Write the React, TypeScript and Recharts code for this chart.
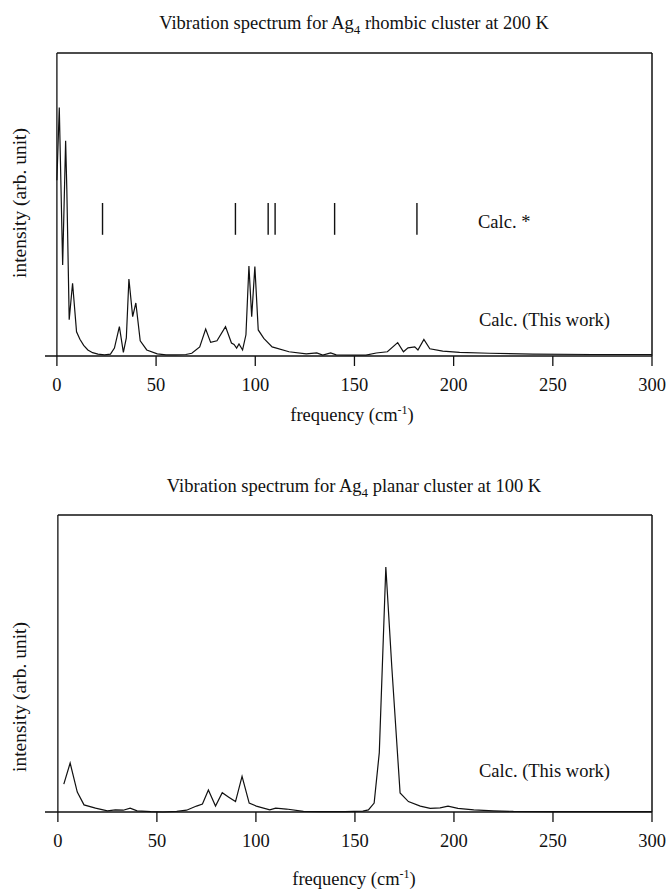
import React from "react";
import { LineChart, Line, XAxis, YAxis, ReferenceLine } from "recharts";

// Ag4 rhombic, 200 K
const rhombicFreq = [
  0, 1.2, 2.9, 4.4, 5.0, 6.2, 7.9, 9.9, 11.6, 13.5, 15.6, 18, 20.7, 24, 27, 29,
  31.5, 33.5, 35, 36.3, 38.2, 39.8, 42, 45.3, 50.6, 55, 60, 65, 68, 72, 75,
  77.5, 80.7, 85, 88, 89.3, 90.6, 91.8, 93.6, 95.3, 96.8, 98.2, 99.8, 101.5,
  104.3, 108.5, 117, 125.7, 131, 134, 138, 140.8, 150, 155.8, 161, 166.6,
  171.8, 174.7, 177, 180.4, 182, 185, 188, 194.5, 203, 218, 240, 270, 300,
];
const rhombicIntensity = [
  0.58, 0.82, 0.3, 0.71, 0.55, 0.12, 0.24, 0.08, 0.055, 0.035, 0.02, 0.011,
  0.006, 0.004, 0.006, 0.026, 0.097, 0.012, 0.06, 0.254, 0.13, 0.175, 0.05,
  0.02, 0.007, 0.004, 0.004, 0.005, 0.009, 0.03, 0.089, 0.045, 0.05, 0.097,
  0.043, 0.038, 0.026, 0.04, 0.02, 0.07, 0.297, 0.13, 0.295, 0.086, 0.058,
  0.03, 0.014, 0.007, 0.01, 0.003, 0.01, 0.004, 0.003, 0.003, 0.01, 0.014,
  0.044, 0.014, 0.027, 0.03, 0.02, 0.055, 0.024, 0.016, 0.012, 0.009, 0.006,
  0.005, 0.005,
];
// "Calc. *" stick positions
const calcStarFreq = [23, 90, 106.5, 110, 140, 181.5];

// Ag4 planar, 100 K
const planarFreq = [
  3, 6.2, 9.8, 13.2, 19, 25, 29, 33, 36.5, 40, 47, 53, 60, 65, 70, 73, 76,
  79.6, 83, 86.3, 89.7, 93, 96.6, 100.2, 107, 110, 115.4, 124, 132, 145, 154,
  156.8, 159.7, 162.3, 165.6, 168.6, 172.8, 177, 183, 188, 193, 197, 202, 210,
  220, 230, 250, 300,
];
const planarIntensity = [
  0.094, 0.165, 0.067, 0.024, 0.013, 0.004, 0.007, 0.006, 0.013, 0.004, 0.001,
  0, 0.002, 0.006, 0.02, 0.027, 0.074, 0.02, 0.065, 0.05, 0.035, 0.12, 0.03,
  0.02, 0.007, 0.013, 0.01, 0.002, 0.001, 0.001, 0.003, 0.007, 0.03, 0.2,
  0.825, 0.49, 0.064, 0.035, 0.02, 0.012, 0.014, 0.02, 0.012, 0.007, 0.004,
  0.002, 0.001, 0.001,
];

const freqTicks = [0, 50, 100, 150, 200, 250, 300];

const FONT = '"Liberation Serif", "Times New Roman", serif';
const INK = "#111";
const FS = 18.5;

function Spectrum({
  top,
  height,
  marginTop,
  marginBottom,
  minX,
  data,
  sticks,
}: {
  top: number;
  height: number;
  marginTop: number;
  marginBottom: number;
  minX: number;
  data: { f: number; v: number }[];
  sticks: number[];
}) {
  return (
    <div style={{ position: "absolute", left: 0, top }}>
      <LineChart
        width={667}
        height={height}
        data={data}
        margin={{ top: marginTop, right: 15, bottom: marginBottom, left: 45 }}
      >
        <XAxis
          dataKey="f"
          type="number"
          domain={[minX, 300]}
          ticks={freqTicks}
          allowDataOverflow
          height={30}
          tickSize={10}
          tickMargin={12}
          axisLine={{ stroke: INK, strokeWidth: 1.3 }}
          tickLine={{ stroke: INK, strokeWidth: 1.3 }}
          tick={{ fill: INK, fontSize: FS, fontFamily: FONT }}
        />
        <YAxis type="number" domain={[0, 1]} hide />
        <ReferenceLine
          segment={[
            { x: 0, y: 1 },
            { x: 300, y: 1 },
          ]}
          stroke={INK}
          strokeWidth={1.5}
        />
        <ReferenceLine x={0} stroke={INK} strokeWidth={1.3} />
        <ReferenceLine x={300} stroke={INK} strokeWidth={1.5} />
        {sticks.map((f) => (
          <ReferenceLine
            key={f}
            segment={[
              { x: f, y: 0.4 },
              { x: f, y: 0.505 },
            ]}
            stroke={INK}
            strokeWidth={1.4}
          />
        ))}
        <Line
          dataKey="v"
          type="linear"
          stroke={INK}
          strokeWidth={1.2}
          dot={false}
          isAnimationActive={false}
        />
      </LineChart>
    </div>
  );
}

const text: React.CSSProperties = {
  position: "absolute",
  fontFamily: FONT,
  color: INK,
  whiteSpace: "nowrap",
  lineHeight: 1,
};

function Centered({ x, y, children }: { x: number; y: number; children: React.ReactNode }) {
  return (
    <div style={{ ...text, left: x, top: y, fontSize: FS, transform: "translate(-50%, -50%)" }}>
      {children}
    </div>
  );
}

function LeftText({ x, y, children }: { x: number; y: number; children: React.ReactNode }) {
  return (
    <div style={{ ...text, left: x, top: y, fontSize: FS, transform: "translateY(-50%)" }}>
      {children}
    </div>
  );
}

function YLabel({ y }: { y: number }) {
  return (
    <div
      style={{
        ...text,
        left: 20,
        top: y,
        fontSize: 19.5,
        transform: "translate(-50%, -50%) rotate(-90deg)",
      }}
    >
      intensity (arb. unit)
    </div>
  );
}

export default function App() {
  const rhombic = rhombicFreq.map((f, i) => ({ f, v: rhombicIntensity[i] }));
  const planar = planarFreq.map((f, i) => ({ f, v: planarIntensity[i] }));
  const sup = { fontSize: 12, verticalAlign: "super" as const };
  const sub = { fontSize: 13, verticalAlign: "sub" as const };

  return (
    <div style={{ position: "absolute", left: 0, top: 0, width: 667, height: 889, background: "#fff" }}>
      <Spectrum
        top={0}
        height={440}
        marginTop={53}
        marginBottom={54}
        minX={-6}
        data={rhombic}
        sticks={calcStarFreq}
      />
      <Spectrum
        top={460}
        height={429}
        marginTop={55}
        marginBottom={47}
        minX={-6.5}
        data={planar}
        sticks={[]}
      />

      <Centered x={354} y={25}>
        Vibration spectrum for Ag<span style={sub}>4</span> rhombic cluster at 200 K
      </Centered>
      <Centered x={352} y={414}>
        frequency (cm<span style={sup}>-1</span>)
      </Centered>
      <YLabel y={203} />
      <LeftText x={478} y={222}>Calc. *</LeftText>
      <LeftText x={479} y={320}>Calc. (This work)</LeftText>

      <Centered x={354} y={488}>
        Vibration spectrum for Ag<span style={sub}>4</span> planar cluster at 100 K
      </Centered>
      <Centered x={354} y={878}>
        frequency (cm<span style={sup}>-1</span>)
      </Centered>
      <YLabel y={697} />
      <LeftText x={479} y={771}>Calc. (This work)</LeftText>
    </div>
  );
}
